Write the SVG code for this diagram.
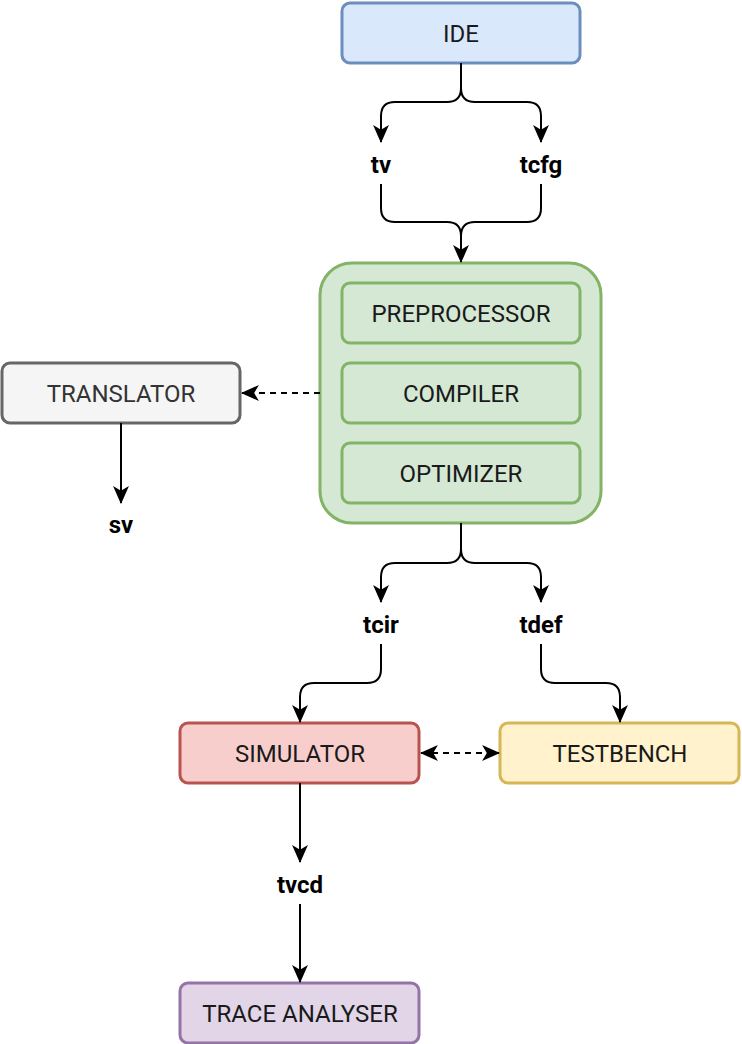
<svg xmlns="http://www.w3.org/2000/svg" width="742" height="1044" viewBox="0 0 742 1044">
<defs>
<marker id="arr" markerUnits="userSpaceOnUse" markerWidth="18" markerHeight="18" viewBox="0 0 17 16" refX="16" refY="8" orient="auto">
<path d="M0,0.5 L17,8 L0,15.5 L4.5,8 z" fill="#000"/>
</marker>
<marker id="arrs" markerUnits="userSpaceOnUse" markerWidth="18" markerHeight="18" viewBox="0 0 17 16" refX="1" refY="8" orient="auto">
<path d="M17,0.5 L0,8 L17,15.5 L12.5,8 z" fill="#000"/>
</marker>
<style>
.box{stroke-width:3}
.t{font-family:Roboto,"Liberation Sans",sans-serif;font-size:24px;text-anchor:middle;dominant-baseline:central;fill:#1a1a1a}
.lbl{font-family:Roboto,"Liberation Sans",sans-serif;font-size:24px;font-weight:bold;text-anchor:middle;dominant-baseline:central;fill:#000}
.c{fill:none;stroke:#000;stroke-width:2}
.d{stroke-dasharray:6 5}
</style>
</defs>
<g id="ide"><rect class="box" x="342" y="3" width="238" height="60" rx="8" fill="#dae8fc" stroke="#6c8ebf"/><text class="t" x="461" y="34">IDE</text></g>
<g id="core">
<rect class="box" x="320" y="263" width="281" height="260" rx="32" fill="#d5e8d4" stroke="#82b366"/>
<g id="preprocessor"><rect class="box" x="342" y="283" width="238" height="60" rx="8" fill="#d5e8d4" stroke="#82b366"/><text class="t" x="461" y="314">PREPROCESSOR</text></g>
<g id="compiler"><rect class="box" x="342" y="363" width="238" height="60" rx="8" fill="#d5e8d4" stroke="#82b366"/><text class="t" x="461" y="394">COMPILER</text></g>
<g id="optimizer"><rect class="box" x="342" y="443" width="238" height="60" rx="8" fill="#d5e8d4" stroke="#82b366"/><text class="t" x="461" y="474">OPTIMIZER</text></g>
</g>
<g id="translator"><rect class="box" x="2" y="363" width="238" height="60" rx="8" fill="#f5f5f5" stroke="#666666"/><text class="t" x="121" y="394" style="fill:#333">TRANSLATOR</text></g>
<g id="simulator"><rect class="box" x="180" y="723" width="239" height="60" rx="8" fill="#f8cecc" stroke="#b85450"/><text class="t" x="300" y="754">SIMULATOR</text></g>
<g id="testbench"><rect class="box" x="500" y="723" width="239" height="60" rx="8" fill="#fff2cc" stroke="#d6b656"/><text class="t" x="620" y="754">TESTBENCH</text></g>
<g id="trace"><rect class="box" x="180" y="983" width="239" height="60" rx="8" fill="#e1d5e7" stroke="#9673a6"/><text class="t" x="300" y="1014">TRACE ANALYSER</text></g>
<g id="labels">
<text class="lbl" x="381" y="165">tv</text>
<text class="lbl" x="541" y="165">tcfg</text>
<text class="lbl" x="121" y="525">sv</text>
<text class="lbl" x="381" y="625">tcir</text>
<text class="lbl" x="541" y="625">tdef</text>
<text class="lbl" x="300" y="885">tvcd</text>
</g>
<g id="connectors">
<path class="c" marker-end="url(#arr)" d="M461,63 V88 Q461,102 447,102 H395 Q381,102 381,116 V142"/>
<path class="c" marker-end="url(#arr)" d="M461,63 V88 Q461,102 475,102 H527 Q541,102 541,116 V142"/>
<path class="c" marker-end="url(#arr)" d="M381,184 V208 Q381,222 395,222 H447 Q461,222 461,236 V262"/>
<path class="c" d="M541,184 V208 Q541,222 527,222 H475 Q461,222 461,236"/>
<path class="c d" marker-end="url(#arr)" d="M320,393 H242"/>
<path class="c" marker-end="url(#arr)" d="M121,423 V503"/>
<path class="c" marker-end="url(#arr)" d="M461,523 V549 Q461,563 447,563 H395 Q381,563 381,577 V602"/>
<path class="c" marker-end="url(#arr)" d="M461,523 V549 Q461,563 475,563 H527 Q541,563 541,577 V602"/>
<path class="c" marker-end="url(#arr)" d="M381,644 V669 Q381,683 367,683 H314 Q300,683 300,697 V722"/>
<path class="c" marker-end="url(#arr)" d="M541,644 V669 Q541,683 555,683 H606 Q620,683 620,697 V722"/>
<path class="c d" marker-start="url(#arrs)" marker-end="url(#arr)" d="M421,753 H499"/>
<path class="c" marker-end="url(#arr)" d="M300,783 V862"/>
<path class="c" marker-end="url(#arr)" d="M300,904 V982"/>
</g>
</svg>
